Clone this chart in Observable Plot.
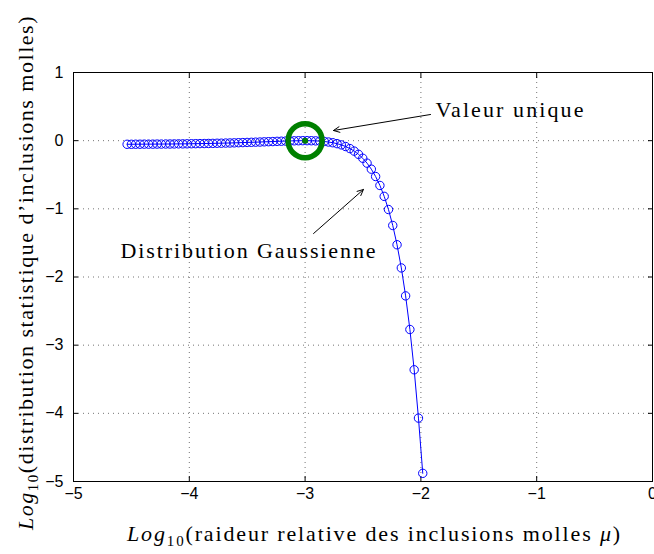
<!DOCTYPE html>
<html>
<head>
<meta charset="utf-8">
<script src="https://cdn.jsdelivr.net/npm/d3@7"></script>
<script src="https://cdn.jsdelivr.net/npm/@observablehq/plot@0.6"></script>
<style>
  html, body { margin: 0; padding: 0; background: #fff; }
  #chart { width: 654px; height: 554px; }
</style>
</head>
<body>
<div id="chart"></div>
<script>
// log10 of the relative stiffness of the soft inclusions
const logMu = [
  -4.537,
  -4.500, -4.463, -4.426, -4.389, -4.352, -4.315, -4.278, -4.241, -4.204, -4.167,
  -4.130, -4.093, -4.056, -4.019, -3.982, -3.945, -3.908, -3.871, -3.834, -3.797,
  -3.760, -3.723, -3.686, -3.649, -3.612, -3.575, -3.538, -3.501, -3.464, -3.427,
  -3.390, -3.353, -3.316, -3.279, -3.242, -3.205, -3.168, -3.131, -3.094, -3.057,
  -3.020, -2.983, -2.946, -2.909, -2.872, -2.835, -2.798, -2.761, -2.724, -2.687,
  -2.650, -2.613, -2.576, -2.539, -2.502, -2.465, -2.428, -2.391, -2.354, -2.317,
  -2.280, -2.243, -2.206, -2.169, -2.132, -2.095, -2.058, -2.021, -1.984
];
// log10 of the statistical distribution (Gaussian case)
const logDist = [
  -0.053,
  -0.053, -0.052, -0.052, -0.051, -0.051, -0.051, -0.050, -0.050, -0.049, -0.049,
  -0.048, -0.047, -0.047, -0.046, -0.045, -0.044, -0.043, -0.042, -0.041, -0.040,
  -0.038, -0.037, -0.035, -0.034, -0.032, -0.030, -0.028, -0.026, -0.024, -0.022,
  -0.020, -0.017, -0.015, -0.013, -0.010, -0.008, -0.006, -0.004, -0.002, -0.001,
   0.000,  0.000, -0.001, -0.003, -0.007, -0.012, -0.020, -0.030, -0.044, -0.062,
  -0.086, -0.116, -0.153, -0.200, -0.258, -0.330, -0.418, -0.526, -0.657, -0.817,
  -1.010, -1.244, -1.527, -1.867, -2.277, -2.770, -3.361, -4.070, -4.880
];
// single-value case
const singleMu = [-3];
const singleDist = [0];

const xTicks = [-5, -4, -3, -2, -1, 0];
const yTicks = [1, 0, -1, -2, -3, -4, -5];

// annotations (data coordinates)
const noteLabels = ["Valeur unique", "Distribution Gaussienne"];
const noteTextX = [-1.874, -4.594];
const noteTextY = [0.457, -1.611];
const noteFromX = [-1.917, -2.927];
const noteFromY = [0.384, -1.362];
const noteToX = [-2.755, -2.496];
const noteToY = [0.149, -0.716];

const curve = logMu.map((x, i) => ({x, y: logDist[i]}));
const single = singleMu.map((x, i) => ({x, y: singleDist[i]}));
const notes = noteLabels.map((label, i) => ({
  label, tx: noteTextX[i], ty: noteTextY[i],
  x1: noteFromX[i], y1: noteFromY[i], x2: noteToX[i], y2: noteToY[i]
}));

const serif = "Liberation Serif";
const blue = "#0000ff";
const green = "#008000";
const blank = () => "";
const intFormat = (d) => (d < 0 ? "\u2212" : "") + Math.abs(d);

const svg = Plot.plot({
  width: 654,
  height: 554,
  marginLeft: 73,
  marginRight: 2,
  marginTop: 72,
  marginBottom: 73,
  style: {fontFamily: "Liberation Sans", fontSize: "16px", background: "#fff", color: "#000", overflow: "visible"},
  x: {domain: [-5, 0]},
  y: {domain: [-5, 1]},
  marks: [
    // dotted grid
    Plot.ruleX(xTicks, {stroke: "#000", strokeOpacity: 0.55, strokeDasharray: "1,4"}),
    Plot.ruleY(yTicks, {stroke: "#000", strokeOpacity: 0.55, strokeDasharray: "1,4"}),
    // inward ticks on all four sides
    Plot.axisX({anchor: "bottom", ticks: xTicks, tickFormat: intFormat, tickSize: -5, tickPadding: 11, label: null}),
    Plot.axisX({anchor: "top", ticks: xTicks, tickSize: -5, tickFormat: blank, label: null}),
    Plot.axisY({anchor: "left", ticks: yTicks, tickFormat: intFormat, tickSize: -5, tickPadding: 15, label: null}),
    Plot.axisY({anchor: "right", ticks: yTicks, tickSize: -5, tickFormat: blank, label: null}),
    Plot.frame({stroke: "#000", strokeWidth: 1}),
    // Gaussian distribution curve
    Plot.line(curve, {x: "x", y: "y", stroke: blue, strokeWidth: 1}),
    Plot.dot(curve, {x: "x", y: "y", r: 4.2, stroke: blue, strokeWidth: 1, fill: "none"}),
    // single value
    Plot.dot(single, {x: "x", y: "y", r: 17, stroke: green, strokeWidth: 5.5, fill: "none"}),
    Plot.dot(single, {x: "x", y: "y", r: 3, fill: green}),
    // annotations
    Plot.arrow(notes, {x1: "x1", y1: "y1", x2: "x2", y2: "y2", stroke: "#000", strokeWidth: 1, headLength: 10, headAngle: 50}),
    Plot.text(notes, {x: "tx", y: "ty", text: "label", textAnchor: "start", fontFamily: serif, fontSize: 22, fill: "#000", className: "note"})
  ]
});

document.getElementById("chart").appendChild(svg);

// widen a serif text to a given length by spreading its letters
function spread(el, target) {
  const len = el.getComputedTextLength();
  const n = el.textContent.length;
  if (n > 1 && len < target) el.setAttribute("letter-spacing", ((target - len) / n).toFixed(3));
}

const noteWidths = {"Valeur unique": 150, "Distribution Gaussienne": 257};
d3.select(svg).selectAll(".note text").each(function() {
  const t = this.textContent;
  if (noteWidths[t]) spread(this, noteWidths[t]);
});

// axis titles with italic "Log" and subscript "10"
const root = d3.select(svg);
function title(transform, body, tail) {
  const t = root.append("text")
    .attr("transform", transform)
    .attr("text-anchor", "start")
    .attr("font-family", serif)
    .attr("font-size", 22)
    .attr("fill", "#000");
  t.append("tspan").attr("font-style", "italic").text("Log");
  t.append("tspan").attr("font-size", 15).attr("dy", 5).text("10");
  t.append("tspan").attr("dy", -5).text(body);
  if (tail) {
    t.append("tspan").attr("font-style", "italic").text(tail);
    t.append("tspan").text(")");
  }
  return t.node();
}
spread(title("translate(127,541)", "(raideur relative des inclusions molles ", "μ"), 495);
spread(title("translate(33,530) rotate(-90)", "(distribution statistique d’inclusions molles)", null), 515);
</script>
</body>
</html>
